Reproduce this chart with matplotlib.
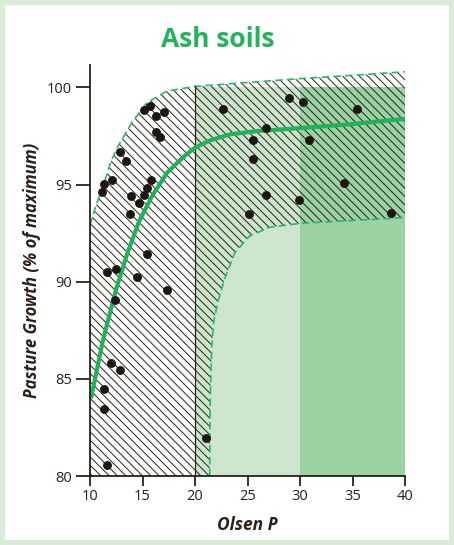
import matplotlib
matplotlib.use("Agg")
import matplotlib.pyplot as plt
from matplotlib.patches import Rectangle

# measured points (Olsen P, % of maximum growth)
olsen_p = [15.1, 15.7, 16.25, 17.05, 16.3, 16.65, 12.9, 13.45, 12.05, 11.35, 11.15,
           15.8, 15.4, 15.15, 13.9, 14.7, 13.8, 15.4, 11.65, 12.45, 14.45, 17.3,
           12.4, 12.0, 12.85, 11.35, 11.35, 11.6, 21.05, 22.7, 28.95, 30.25, 26.75,
           25.55, 25.55, 26.75, 25.15, 29.9, 30.9, 35.4, 34.2, 38.7]
growth = [98.85, 99.05, 98.5, 98.75, 97.7, 97.45, 96.65, 96.2, 95.25, 95.05, 94.6,
          95.25, 94.8, 94.45, 94.4, 94.05, 93.5, 91.4, 90.5, 90.65, 90.25, 89.55,
          89.05, 85.8, 85.45, 84.5, 83.45, 80.55, 81.95, 98.9, 99.45, 99.25, 97.9,
          97.3, 96.3, 94.45, 93.5, 94.2, 97.3, 98.9, 95.1, 93.55]

# response curve
fit_x = [10.1, 11.24, 12.48, 13.52, 14.67, 15.9, 17.33, 18.86, 20.0, 21.43, 23.33,
         25.9, 30.0, 34.76, 40.0]
fit_y = [84.0, 87.0, 89.6, 91.4, 93.1, 94.4, 95.6, 96.4, 96.9, 97.27, 97.58,
         97.75, 97.9, 98.1, 98.38]

# band limits
upper_x = [10, 10.5, 11.3, 12, 12.7, 14, 15.4, 17.3, 20, 25, 30, 35, 40]
upper_y = [92.9, 93.8, 95.0, 96.2, 97.0, 98.2, 99.2, 99.8, 100.05, 100.25, 100.45, 100.62, 100.8]
lower_x = [21.4, 21.45, 21.6, 21.8, 22.2, 22.8, 23.8, 25.2, 27.1, 30, 35, 40]
lower_y = [80, 84, 86.7, 88.0, 89.0, 90.1, 91.5, 92.35, 92.8, 93.0, 93.15, 93.3]

x_ticks = [10, 15, 20, 25, 30, 35, 40]
y_ticks = [80, 85, 90, 95, 100]

dark = '#2a2018'
green = '#1fb25a'

plt.rcParams['font.family'] = ['Open Sans', 'DejaVu Sans']
plt.rcParams['hatch.linewidth'] = 0.7
plt.rcParams['hatch.color'] = dark

fig = plt.figure(figsize=(4.54, 5.45), dpi=100, facecolor='#d8ecd8')
fig.patches.append(Rectangle((5 / 454, 5 / 545), 444 / 454, 535 / 545,
                             transform=fig.transFigure, facecolor='white',
                             edgecolor='none', zorder=-5))
ax = fig.add_axes([90 / 454, 1 - 476 / 545, 315 / 454, 411 / 545])
ax.set_facecolor('none')

# optimum zones
ax.fill_between([20, 30], 80, 100, color='#cbe6cd', lw=0, zorder=1)
ax.fill_between([30, 40], 80, 100, color='#9ad2a4', lw=0, zorder=1)

# hatched band
band_x = upper_x + lower_x[::-1] + [10]
band_y = upper_y + lower_y[::-1] + [80]
ax.fill(band_x, band_y, facecolor='none', edgecolor=dark, lw=0,
        hatch='\\\\\\\\', zorder=2)
ax.plot(upper_x, upper_y, color='#2bb866', lw=1.2, ls=(0, (4.5, 2.5)), zorder=3)
ax.plot(lower_x, lower_y, color='#2bb866', lw=1.2, ls=(0, (4.5, 2.5)), zorder=3)
ax.plot([20, 20], [80, 100.05], color=dark, lw=0.9, zorder=3)

ax.plot(fit_x, fit_y, color=green, lw=3, solid_capstyle='butt', zorder=4)
ax.plot(olsen_p, growth, 'o', color='#1e1610', ms=6.4, mec='none', zorder=5)

ax.set_xlim(10, 40)
ax.set_ylim(80, 101.15)
ax.set_xticks(x_ticks)
ax.set_yticks(y_ticks)
for s in ['top', 'right']:
    ax.spines[s].set_visible(False)
for s in ['left', 'bottom']:
    ax.spines[s].set_color(dark)
    ax.spines[s].set_linewidth(1.3)
    ax.spines[s].set_zorder(6)
ax.tick_params(axis='y', length=10, width=1.3, color=dark, labelsize=10.5,
               labelcolor=dark, pad=3)
ax.tick_params(axis='x', length=7, width=1.3, color=dark, labelsize=10.5,
               labelcolor=dark, pad=2)

ax.set_xlabel('Olsen P', fontsize=12.5, fontweight='bold', fontstyle='italic',
              color=dark, labelpad=9)
ax.set_ylabel('Pasture Growth (% of maximum)', fontsize=12, fontweight='bold',
              fontstyle='italic', color=dark, labelpad=4)
fig.text(218 / 454, 1 - 39 / 545, 'Ash soils', ha='center', va='center',
         fontsize=19, fontweight='bold', color='#22b35b')

fig.savefig('out.png', dpi=100, facecolor=fig.get_facecolor())
